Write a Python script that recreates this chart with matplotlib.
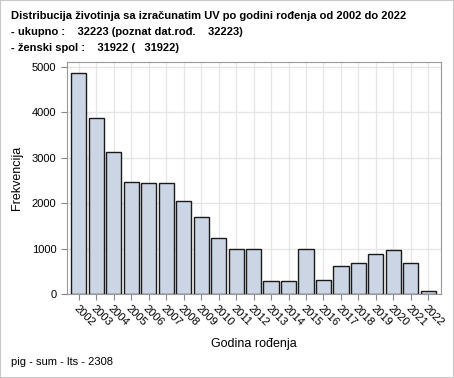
import matplotlib
matplotlib.use("Agg")
import matplotlib.pyplot as plt
from matplotlib.patches import Rectangle

plt.rcParams['font.family'] = ['Liberation Sans', 'DejaVu Sans']

# data
years = [str(y) for y in range(2002, 2023)]
counts = [4860, 3870, 3130, 2470, 2450, 2435, 2045, 1700, 1230, 1000, 1000,
          290, 290, 1000, 300, 615, 690, 875, 960, 675, 60]
yticks = [0, 1000, 2000, 3000, 4000, 5000]

title_lines = [
    "Distribucija životinja sa izračunatim UV po godini rođenja od 2002 do 2022",
    "- ukupno :    32223 (poznat dat.rođ.    32223)",
    "- ženski spol :    31922 (   31922)",
]

W, H = 454, 378
fig = plt.figure(figsize=(W / 100, H / 100), dpi=100)
fig.patches.append(Rectangle((0, 0), 1, 1, transform=fig.transFigure,
                             fill=False, edgecolor='#c8c8c8', linewidth=1.5))

ax = fig.add_axes([66.7 / W, 1 - 294 / H, (440.7 - 66.7) / W, (294 - 62.3) / H])
x = list(range(len(years)))
ax.bar(x, counts, width=0.86, color='#cbd5e4', edgecolor='#1a1a1a', linewidth=1.0, zorder=3)

ax.set_xlim(-0.68, len(years) - 1 + 0.7)
ax.set_ylim(0, 5000 * (294 - 62.3) / (294 - 66.7))
ax.set_yticks(yticks)
ax.set_xticks(x)
ax.set_xticklabels(years, rotation=-45, ha='left', va='top', rotation_mode='anchor')
ax.tick_params(axis='both', labelsize=8, colors='#888888', labelcolor='black', length=4)
ax.tick_params(axis='x', pad=3)
ax.grid(True, color='#e6e6e6', linewidth=1, zorder=0)
for s in ax.spines.values():
    s.set_color('#999999')

ax.set_ylabel("Frekvencija", fontsize=9, labelpad=6)
ax.set_xlabel("Godina rođenja", fontsize=9, labelpad=7)

for i, line in enumerate(title_lines):
    fig.text(11 / W, 1 - (16 + i * 16) / H, line, fontsize=8.0, fontweight='bold',
             va='center', ha='left')

fig.text(11 / W, 1 - 362 / H, "pig - sum - lts - 2308", fontsize=8, va='center', ha='left')

fig.savefig("out.png", dpi=100)
